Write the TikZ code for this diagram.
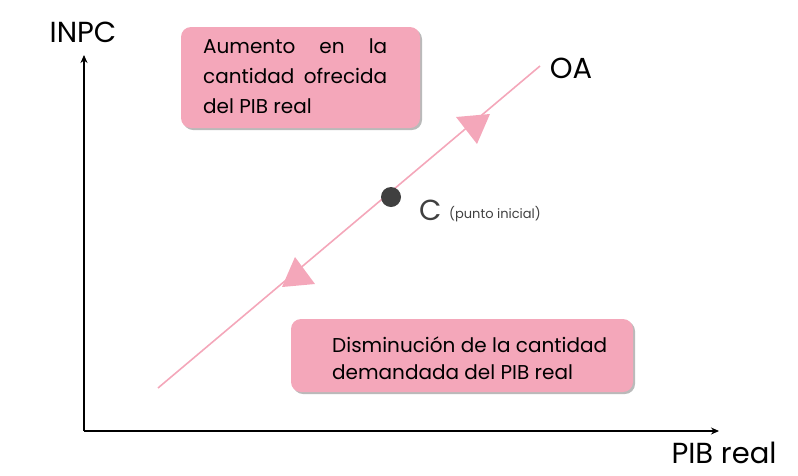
\documentclass[tikz,border=0pt]{standalone}
\usepackage{fontspec}
\setmainfont{Poppins}
\usetikzlibrary{shadows,arrows.meta}
\definecolor{rosa}{HTML}{F4A7BA}
\definecolor{dot}{HTML}{404040}
\begin{document}
\begin{tikzpicture}[x=1pt,y=-1pt,
  pinkbox/.style={fill=rosa, rounded corners=10pt, drop shadow={shadow xshift=2pt, shadow yshift=-2pt, fill=black!45, opacity=0.6}},
  axis/.style={draw=black, line width=1.1pt, -{Stealth[length=8pt,width=7pt]}},
  big/.style={font=\fontsize{29}{32}\selectfont},
  boxtext/.style={font=\fontsize{20}{30}\selectfont, inner sep=0pt}]
\useasboundingbox (0,0) rectangle (798,475);
% boxes
\path[pinkbox] (181,27) rectangle (420,128);
\path[pinkbox] (291,319) rectangle (633,392);
\node[boxtext, text width=184pt, align=justify, anchor=north west] (t1) at (203,38) {Aumento en la\linebreak cantidad ofrecida\linebreak del PIB real};
\node[boxtext, align=left, anchor=north west, font=\fontsize{20}{27}\selectfont] (t2) at (332,337) {Disminución de la cantidad\\demandada del PIB real};
% axes
\coordinate (O) at (84,431);
\coordinate (Ytop) at (84,55);
\coordinate (Xend) at (719,431);
\draw[axis] (O) -- (Ytop);
\draw[axis] (O) -- (Xend);
\node[big] (inpc) at (83,32) {INPC};
\node[big, inner sep=0pt, text depth=0pt, anchor=base] (pib) at (724,463) {PIB real};
% supply line
\coordinate (A) at (158,388);
\coordinate (B) at (540,66);
\draw[rosa, line width=1.6pt] (A) -- (B);
\node[big] (oa) at (571,68) {OA};
% arrowheads
\fill[rosa] (490,114) -- (456,117) -- (477,144) -- cycle;
\fill[rosa] (282,287) -- (295,257) -- (315,284) -- cycle;
% point C
\fill[dot] (391,197) circle (10);
\node[big, text=dot, anchor=west, inner sep=0pt] (c) at (419,210) {C};
\node[font=\fontsize{13}{15}\selectfont, text=dot, anchor=west, inner sep=0pt] (pi) at (449,214) {(punto inicial)};
\end{tikzpicture}
\end{document}
